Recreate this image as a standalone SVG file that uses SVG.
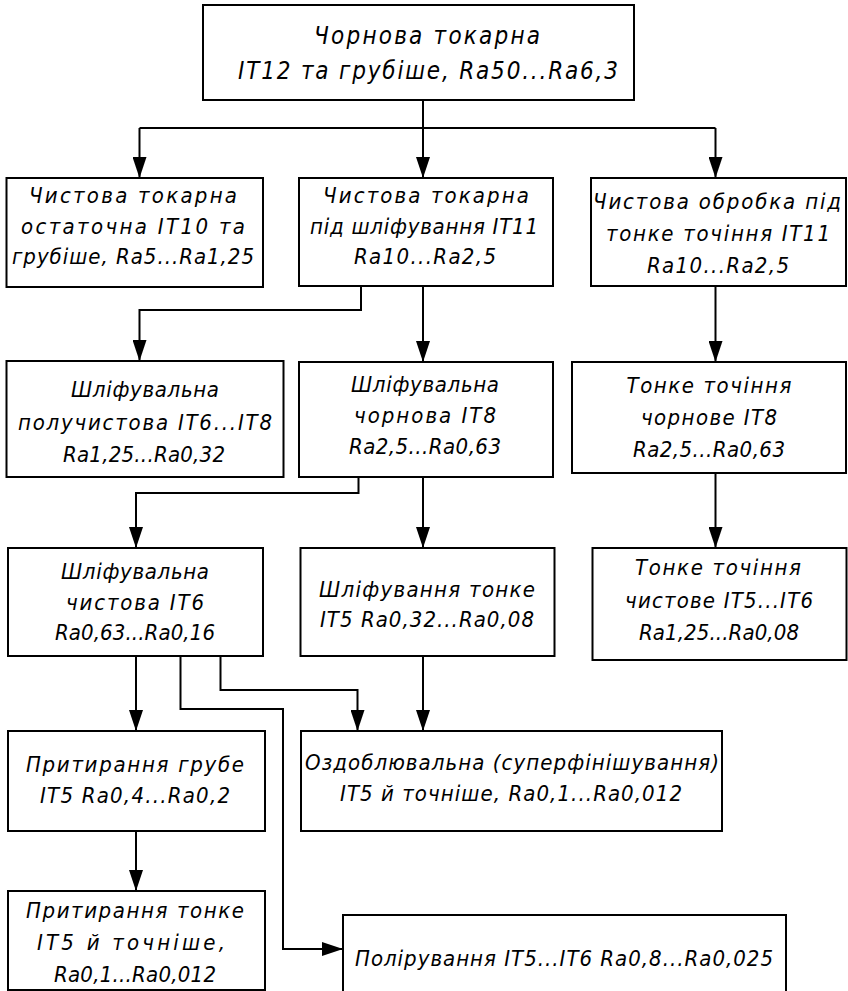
<svg xmlns="http://www.w3.org/2000/svg" width="848" height="991" viewBox="0 0 848 991">
<style>
.box{fill:#fff;stroke:#000;stroke-width:2}
.c{fill:none;stroke:#000;stroke-width:2}
text{font-family:'DejaVu Sans Condensed','DejaVu Sans',sans-serif;font-style:italic;font-size:22px;fill:#000;text-anchor:middle}
.big{font-size:24px}
</style>
<defs>
<marker id="ar" markerUnits="userSpaceOnUse" markerWidth="22" markerHeight="14" refX="21" refY="7" orient="auto">
<path d="M0,0 L21,7 L0,14 Z" fill="#000"/>
</marker>
</defs>
<rect width="848" height="991" fill="#fff"/>
<g id="connectors">
<path class="c" d="M423,100 V128"/>
<path class="c" d="M139.5,128 H715.5"/>
<path class="c" d="M139.5,128 V178" marker-end="url(#ar)"/>
<path class="c" d="M423,128 V178" marker-end="url(#ar)"/>
<path class="c" d="M715.5,128 V178" marker-end="url(#ar)"/>
<path class="c" d="M361,286 V310 H139.5 V361" marker-end="url(#ar)"/>
<path class="c" d="M423,286 V362" marker-end="url(#ar)"/>
<path class="c" d="M715.5,286 V362" marker-end="url(#ar)"/>
<path class="c" d="M358.5,477 V493 H136 V548" marker-end="url(#ar)"/>
<path class="c" d="M423,477 V548" marker-end="url(#ar)"/>
<path class="c" d="M715.5,473 V548" marker-end="url(#ar)"/>
<path class="c" d="M136,656 V731" marker-end="url(#ar)"/>
<path class="c" d="M180.5,656 V709 H283 V949 H343" marker-end="url(#ar)"/>
<path class="c" d="M220.5,656 V690 H357.5 V731" marker-end="url(#ar)"/>
<path class="c" d="M423,656 V731" marker-end="url(#ar)"/>
<path class="c" d="M136,831 V891" marker-end="url(#ar)"/>
</g>
<g id="n0">
<rect class="box" x="203" y="5" width="431" height="95"/>
<text class="big" x="427" y="44" textLength="226" lengthAdjust="spacing">Чорнова токарна</text>
<text class="big" x="428" y="79" textLength="380" lengthAdjust="spacing">IT12 та грубіше, Ra50...Ra6,3</text>
</g>
<g id="n1">
<rect class="box" x="6.5" y="178" width="256.5" height="109"/>
<text x="133" y="203" textLength="208" lengthAdjust="spacing">Чистова токарна</text>
<text x="133" y="234" textLength="224" lengthAdjust="spacing">остаточна IT10 та</text>
<text x="133" y="264" textLength="242" lengthAdjust="spacing">грубіше, Ra5...Ra1,25</text>
</g>
<g id="n2">
<rect class="box" x="299" y="178" width="254" height="108"/>
<text x="426" y="203" textLength="206" lengthAdjust="spacing">Чистова токарна</text>
<text x="424" y="234" textLength="228" lengthAdjust="spacing">під шліфування IT11</text>
<text x="425" y="264" textLength="142" lengthAdjust="spacing">Ra10...Ra2,5</text>
</g>
<g id="n3">
<rect class="box" x="591" y="178" width="255" height="108"/>
<text x="717" y="209" textLength="248" lengthAdjust="spacing">Чистова обробка під</text>
<text x="718" y="241" textLength="224" lengthAdjust="spacing">тонке точіння IT11</text>
<text x="718" y="273" textLength="142" lengthAdjust="spacing">Ra10...Ra2,5</text>
</g>
<g id="n4">
<rect class="box" x="6.5" y="361" width="277" height="116"/>
<text x="145" y="397" textLength="148" lengthAdjust="spacing">Шліфувальна</text>
<text x="145" y="430" textLength="254" lengthAdjust="spacing">получистова IT6...IT8</text>
<text x="144" y="462" textLength="162" lengthAdjust="spacing">Ra1,25...Ra0,32</text>
</g>
<g id="n5">
<rect class="box" x="299" y="362" width="254" height="115"/>
<text x="425" y="392" textLength="148" lengthAdjust="spacing">Шліфувальна</text>
<text x="425" y="423" textLength="142" lengthAdjust="spacing">чорнова IT8</text>
<text x="425" y="454" textLength="152" lengthAdjust="spacing">Ra2,5...Ra0,63</text>
</g>
<g id="n6">
<rect class="box" x="572" y="362" width="274" height="111"/>
<text x="709" y="393" textLength="165" lengthAdjust="spacing">Тонке точіння</text>
<text x="709" y="425" textLength="136" lengthAdjust="spacing">чорнове IT8</text>
<text x="709" y="457" textLength="152" lengthAdjust="spacing">Ra2,5...Ra0,63</text>
</g>
<g id="n7">
<rect class="box" x="8" y="548" width="255" height="108"/>
<text x="135" y="579" textLength="148" lengthAdjust="spacing">Шліфувальна</text>
<text x="135" y="610" textLength="138" lengthAdjust="spacing">чистова IT6</text>
<text x="135" y="640" textLength="160" lengthAdjust="spacing">Ra0,63...Ra0,16</text>
</g>
<g id="n8">
<rect class="box" x="300.5" y="548" width="254" height="108"/>
<text x="427" y="597" textLength="216" lengthAdjust="spacing">Шліфування тонке</text>
<text x="427" y="627" textLength="214" lengthAdjust="spacing">IT5 Ra0,32...Ra0,08</text>
</g>
<g id="n9">
<rect class="box" x="592.5" y="548" width="254" height="112"/>
<text x="718" y="575" textLength="166" lengthAdjust="spacing">Тонке точіння</text>
<text x="719" y="608" textLength="188" lengthAdjust="spacing">чистове IT5...IT6</text>
<text x="719" y="640" textLength="160" lengthAdjust="spacing">Ra1,25...Ra0,08</text>
</g>
<g id="n10">
<rect class="box" x="8" y="731" width="257" height="100"/>
<text x="135" y="772" textLength="218" lengthAdjust="spacing">Притирання грубе</text>
<text x="135" y="803" textLength="190" lengthAdjust="spacing">IT5 Ra0,4...Ra0,2</text>
</g>
<g id="n11">
<rect class="box" x="301" y="731" width="421" height="100"/>
<text x="512" y="770" textLength="414" lengthAdjust="spacing">Оздоблювальна (суперфінішування)</text>
<text x="511" y="801" textLength="342" lengthAdjust="spacing">IT5 й точніше, Ra0,1...Ra0,012</text>
</g>
<g id="n12">
<rect class="box" x="8" y="891" width="257" height="99"/>
<text x="135" y="918" textLength="218" lengthAdjust="spacing">Притирання тонке</text>
<text x="131" y="950" textLength="188" lengthAdjust="spacing">IT5 й точніше,</text>
<text x="135" y="982" textLength="162" lengthAdjust="spacing">Ra0,1...Ra0,012</text>
</g>
<g id="n13">
<rect class="box" x="343" y="915" width="443" height="90"/>
<text x="564" y="966" textLength="418" lengthAdjust="spacing">Полірування IT5...IT6 Ra0,8...Ra0,025</text>
</g>
</svg>
